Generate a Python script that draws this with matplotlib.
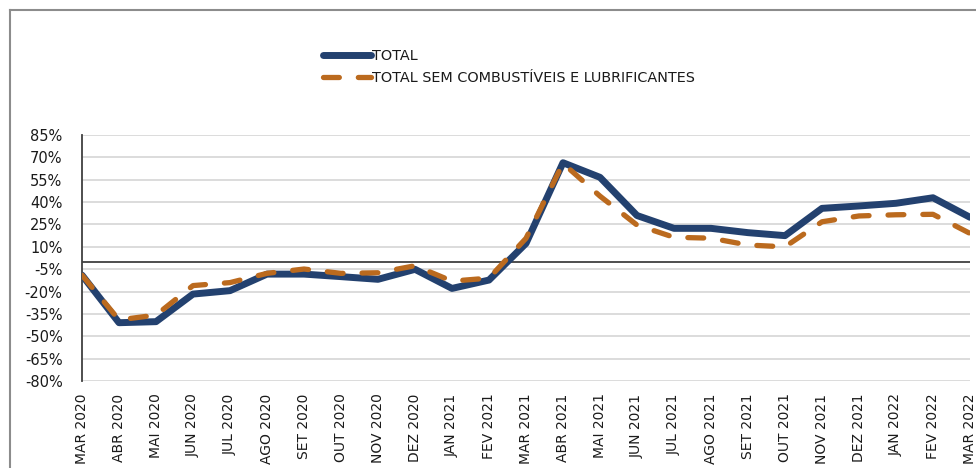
import matplotlib.pyplot as plt
from matplotlib.lines import Line2D
from matplotlib.ticker import FixedLocator, FuncFormatter

meses = ["MAR 2020", "ABR 2020", "MAI 2020", "JUN 2020", "JUL 2020", "AGO 2020",
         "SET 2020", "OUT 2020", "NOV 2020", "DEZ 2020", "JAN 2021", "FEV 2021",
         "MAR 2021", "ABR 2021", "MAI 2021", "JUN 2021", "JUL 2021", "AGO 2021",
         "SET 2021", "OUT 2021", "NOV 2021", "DEZ 2021", "JAN 2022", "FEV 2022",
         "MAR 2022"]

total = [-9.0, -40.9, -40.2, -21.7, -19.4, -8.3, -8.3, -10.0, -11.8, -5.1,
         -17.9, -12.3, 12.3, 66.4, 56.6, 31.0, 22.4, 22.4, 19.5, 17.5,
         35.8, 37.4, 39.2, 42.9, 29.8]

sem_comb = [-9.0, -39.0, -35.8, -16.0, -14.0, -7.8, -4.9, -7.8, -7.4, -2.7,
            -13.0, -11.0, 15.7, 66.0, 44.0, 24.6, 16.4, 15.8, 11.2, 10.0,
            26.8, 30.7, 31.5, 31.8, 19.0]

y_ticks = [85, 70, 55, 40, 25, 10, -5, -20, -35, -50, -65, -80]

plt.rcParams['font.family'] = ['DejaVu Sans']

fig = plt.figure(figsize=(9.76, 4.68), dpi=100)
ax = fig.add_axes([82 / 976, 1 - 381 / 468, (970 - 82) / 976, (381 - 135) / 468])

x = list(range(len(meses)))
ax.plot(x, total, color='#23416f', lw=5.0, solid_capstyle='round',
        solid_joinstyle='round', label='TOTAL', zorder=3)
ax.plot(x, sem_comb, color='#bb6a1e', lw=3.8, dashes=(3.0, 3.6),
        dash_capstyle='round', label='TOTAL SEM COMBUSTÍVEIS E LUBRIFICANTES', zorder=4)

ax.set_xlim(0, len(meses) - 1)
ax.set_ylim(-80, 85)
ax.yaxis.set_major_locator(FixedLocator(y_ticks))
ax.yaxis.set_major_formatter(FuncFormatter(lambda v, p: f"{v:.0f}%"))
ax.grid(axis='y', color='#d9d9d9', lw=1.3)
ax.set_axisbelow(True)
ax.axhline(0, color='#404040', lw=1.3, zorder=2)

ax.set_xticks(x)
ax.set_xticklabels(meses, rotation=90, va='top', ha='center', fontsize=10, color='#1a1a1a')
ax.tick_params(axis='y', length=0, pad=14, labelsize=10.5, labelcolor='#1a1a1a')
ax.tick_params(axis='x', length=0, pad=9)

for s in ['top', 'right', 'bottom']:
    ax.spines[s].set_visible(False)
ax.spines['left'].set_color('#404040')
ax.spines['left'].set_linewidth(1.3)

leg = fig.legend(loc='upper left', bbox_to_anchor=(310 / 976, 1 - 36 / 468),
                 frameon=False, fontsize=10.4, handlelength=3.3, handletextpad=0.1,
                 labelspacing=0.55)
for t in leg.get_texts():
    t.set_color('#1a1a1a')

# moldura do gráfico
fig.add_artist(Line2D([10 / 976, 10 / 976], [0, 1 - 10 / 468], color='#8c8c8c', lw=1.5))
fig.add_artist(Line2D([10 / 976, 1], [1 - 10 / 468, 1 - 10 / 468], color='#8c8c8c', lw=1.5))

fig.savefig('out.png', dpi=100)
